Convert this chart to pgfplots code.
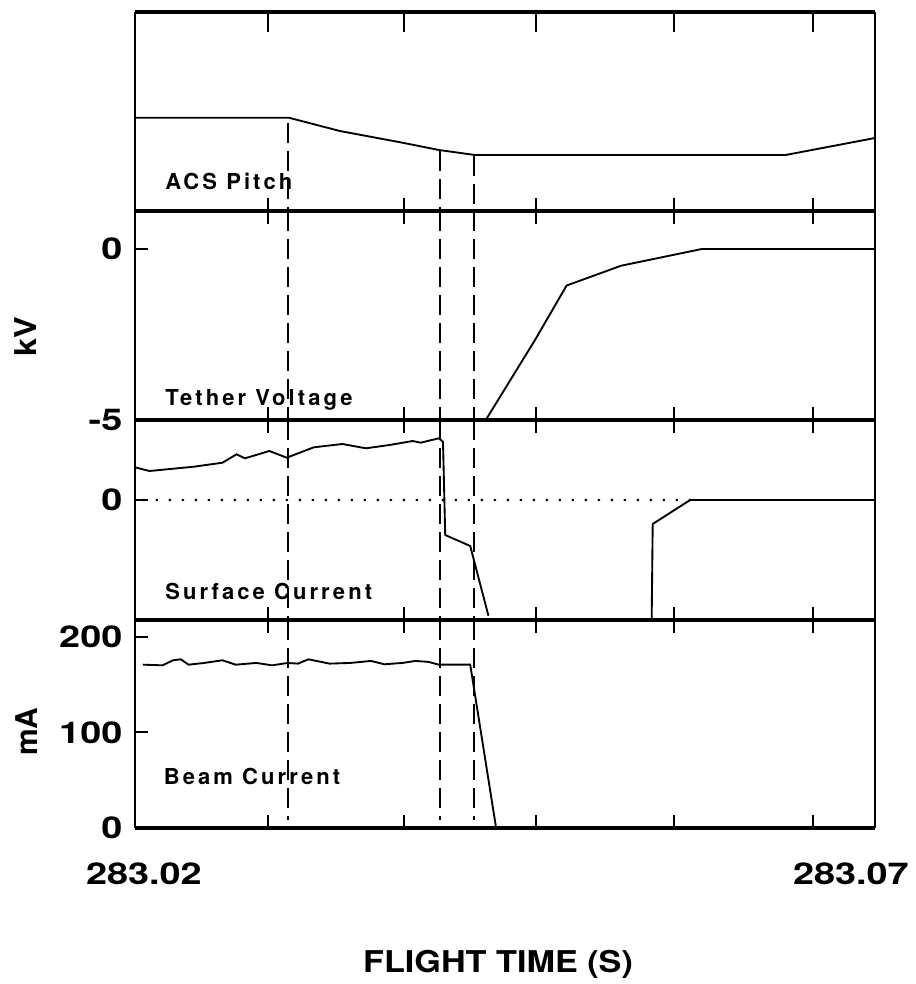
\documentclass[border=0pt]{standalone}
\usepackage{pgfplots}
\pgfplotsset{compat=1.18}
\usepackage{fontspec}
\setmainfont{TeX Gyre Heros}
\newfontfamily\spaced[LetterSpace=14]{TeX Gyre Heros}
\newcommand{\bigf}{\fontsize{22.5pt}{26pt}\selectfont\bfseries}
\newcommand{\num}[1]{\scalebox{1.26}[1]{#1}}
\newcommand{\plab}{\fontsize{16.5pt}{19pt}\selectfont\spaced\bfseries}

\begin{document}
\begin{tikzpicture}
\path[use as bounding box] (0pt,0pt) rectangle (687pt,-738pt);
\pgfplotsset{
  panel/.style={
    anchor=north west, width=555pt, scale only axis,
    xmin=20, xmax=70,
    xtick={28.98,38.18,47.09,56.45,65.79},
    xticklabels={},
    xtick pos=both, ytick pos=left, tick align=inside,
    major tick length=10pt,
    tick style={black, line width=1.5pt},
    separate axis lines,
    x axis line style={line width=2.3pt},
    y axis line style={line width=1.5pt},
    tick label style={font=\bigf},
    yticklabel style={xshift=-6pt},
  },
  dline/.style={line width=1.2pt, dash pattern=on 15pt off 6pt, black},
  dat/.style={line width=1.4pt, black},
}

% ACS Pitch
\begin{axis}[panel, at={(101.25pt,-9pt)}, height=149.25pt, ymin=0, ymax=199, ytick=\empty,
  extra x ticks={28.98,38.18,47.09,56.45,65.79}, extra x tick labels={},
  extra x tick style={xtick pos=right, major tick length=15pt}]
\addplot[dat] coordinates {(20,93.3) (30.39,93.3) (33.84,80) (38.07,68.3) (40.54,61) (42.97,56) (63.96,56) (70,73)};
\addplot[dline] coordinates {(30.32,88) (30.32,0)};
\addplot[dline] coordinates {(40.61,60) (40.61,0)};
\addplot[dline] coordinates {(42.91,55) (42.91,0)};
\end{axis}

% Tether Voltage
\begin{axis}[panel, at={(101.25pt,-158.25pt)}, height=156.75pt, ymin=-5, ymax=1.11,
  ytick={-5,0}, yticklabels={\num{-5},\num{0}}]
\addplot[dat] coordinates {(43.70,-5) (47.03,-2.66) (49.16,-1.07) (52.84,-0.49) (58.31,0) (70,0)};
\addplot[dline] coordinates {(30.32,1.11) (30.32,-5)};
\addplot[dline] coordinates {(40.61,1.11) (40.61,-5)};
\addplot[dline] coordinates {(42.91,1.11) (42.91,-5)};
\end{axis}

% Surface Current
\begin{axis}[panel, at={(101.25pt,-315pt)}, height=150pt, ymin=-120, ymax=80,
  ytick={0}, yticklabels={\num{0}}]
\addplot[line width=2.2pt, line cap=round, dash pattern=on 0pt off 9.75pt, black] coordinates {(20.6,0) (57.5,0)};
\addplot[dat] coordinates {(20.00,32.7) (20.98,29) (23.97,33.3) (25.91,37.3) (26.86,45.7) (27.43,41.7) (29.08,49) (30.25,42.3) (32.08,52.7) (34.01,56) (35.60,51.7) (37.19,55) (38.77,59) (39.30,57.3) (40.53,61.7) (40.81,58.3) (40.96,-35) (42.65,-46) (43.88,-115.7)};
\addplot[dat] coordinates {(54.91,-120) (54.98,-24) (57.51,0) (70,0)};
\addplot[dline] coordinates {(30.32,80) (30.32,-120)};
\addplot[dline] coordinates {(40.61,80) (40.61,-120)};
\addplot[dline] coordinates {(42.91,80) (42.91,-120)};
\end{axis}

% Beam Current
\begin{axis}[panel, at={(101.25pt,-465pt)}, height=156pt, ymin=0, ymax=217.5,
  ytick={0,100,200}, yticklabels={\num{0},\num{100},\num{200}},
  extra x ticks={20.6,68.37}, extra x tick labels={\num{283.02},\num{283.07}},
  extra x tick style={tick style={draw=none}, xticklabel style={yshift=-22.7pt}}]
\addplot[dat] coordinates {(20.53,170.8) (21.86,170.1) (22.57,175.4) (23.09,176.4) (23.62,170.8) (24.68,172.6) (25.91,175.4) (26.80,170.8) (28.20,172.6) (29.26,170.1) (30.32,172.6) (31.01,171.9) (31.72,176.4) (33.14,171.9) (34.55,172.6) (35.95,174.7) (36.84,171.2) (38.07,172.6) (38.95,174.7) (39.83,173.7) (40.53,170.8) (42.65,170.8) (44.40,0)};
\addplot[dline] coordinates {(30.32,217.5) (30.32,8)};
\addplot[dline] coordinates {(40.61,217.5) (40.61,8)};
\addplot[dline] coordinates {(42.91,217.5) (42.91,8)};
\end{axis}

\node[anchor=west, inner sep=0pt, font=\plab] at (123.75pt,-135.75pt) {ACS Pitch};
\node[anchor=west, inner sep=0pt, font=\plab] at (123.75pt,-300pt) {Tether Voltage};
\node[anchor=west, inner sep=0pt, font=\plab] at (123.75pt,-443.75pt) {Surface Current};
\node[anchor=west, inner sep=0pt, font=\plab] at (122.7pt,-582.5pt) {Beam Current};
\node[rotate=90, inner sep=0pt, font=\bigf] at (19.5pt,-252.5pt) {\scalebox{1.08}[1]{kV}};
\node[rotate=90, inner sep=0pt, font=\bigf] at (20.25pt,-548.8pt) {mA};
\node[inner sep=0pt, font=\bigf] at (373.5pt,-723pt) {\scalebox{1.14}[1]{FLIGHT TIME (S)}};
\end{tikzpicture}
\end{document}
